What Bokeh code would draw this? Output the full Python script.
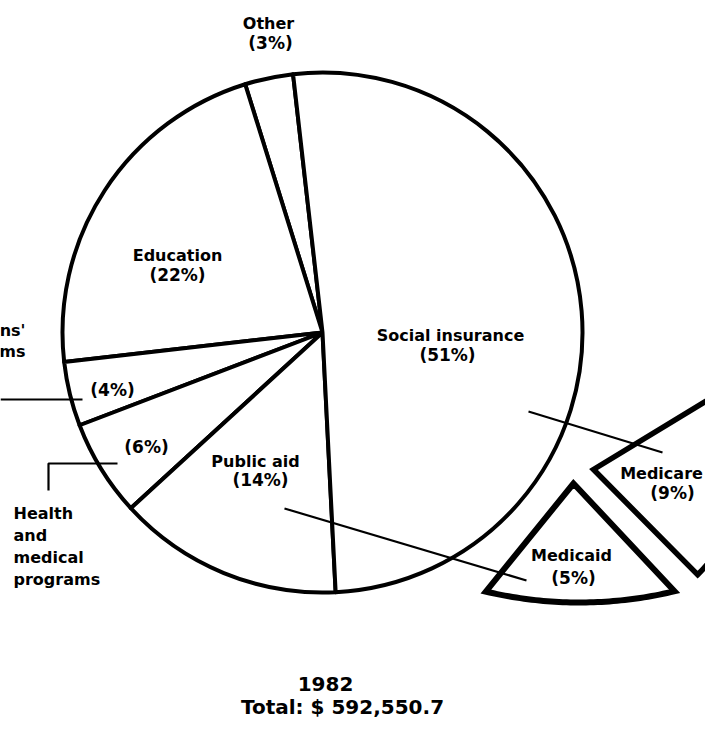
import numpy as np
from bokeh.plotting import figure
from bokeh.models import Range1d
from bokeh.core.properties import value
from bokeh.embed import file_html
from bokeh.resources import INLINE

# ---------------- data ----------------
slice_names = ["Other", "Education", "Veterans' programs",
               "Health and medical programs", "Public aid", "Social insurance"]
slice_shares = [3, 22, 4, 6, 14, 51]
callout_names = ["Medicare", "Medicaid"]
callout_shares = [9, 5]
year_label = "1982"
total_value = 592550.7

# ---------------- layout (picture pixel space, y down) ----------------
W, H = 705, 718
TEXT_DY = -7  # compensates the svg text baseline offset
def fy(y):
    return float(H - y)
def ft(y):
    return float(H - (y + TEXT_DY))

PIE_CX, PIE_CY, PIE_R = 322, 332, 260
START_DEG = 96.5

p = figure(width=W, height=H, x_range=Range1d(0, W), y_range=Range1d(0, H),
           output_backend="svg", toolbar_location=None, min_border=0,
           x_axis_location=None, y_axis_location=None)
p.grid.visible = False
p.outline_line_color = None
p.background_fill_color = "white"
p.border_fill_color = "white"

# ---------------- pie ----------------
shares = np.array(slice_shares, dtype=float)
cum = np.concatenate([[0], np.cumsum(shares)]) / shares.sum() * 360.0
starts = np.radians(START_DEG + cum[:-1])
ends = np.radians(START_DEG + cum[1:])
p.wedge(x=[PIE_CX] * len(shares), y=[fy(PIE_CY)] * len(shares), radius=PIE_R,
        start_angle=list(starts), end_angle=list(ends), direction="anticlock",
        fill_color="white", line_color="black", line_width=4, line_join="round")

# ---------------- call-out pieces ----------------
# Medicare: sector with apex at its own centre
MC_APEX = (593, 469)
p.wedge(x=[MC_APEX[0]], y=[fy(MC_APEX[1])], radius=148,
        start_angle=np.radians(-45.3), end_angle=np.radians(31.3),
        fill_color="white", line_color="black", line_width=5.5, line_join="miter")

# Medicaid: apex + shallow outer arc
MD_APEX = (573, 483)
MD_ARC_C = (579, 195)
MD_ARC_R = 407
th = np.radians(np.linspace(-103.3, -76.5, 50))
arc_x = MD_ARC_C[0] + MD_ARC_R * np.cos(th)
arc_y = fy(MD_ARC_C[1]) + MD_ARC_R * np.sin(th)
p.patch(x=np.concatenate([[MD_APEX[0]], arc_x]), y=np.concatenate([[fy(MD_APEX[1])], arc_y]),
        fill_color="white", line_color="black", line_width=6, line_join="miter")

# ---------------- leader lines ----------------
leaders = [
    ([528, 662], [411, 452]),          # Medicare
    ([284, 526], [508, 580]),          # Medicaid
    ([0, 82], [399, 399]),             # Veterans' programs
    ([117, 48, 48], [463, 463, 490]),  # Health and medical programs
]
p.multi_line(xs=[l[0] for l in leaders], ys=[[fy(v) for v in l[1]] for l in leaders],
             line_color="black", line_width=2.2)

# ---------------- labels ----------------
FONT = value("DejaVu Sans")
name_lines = {
    "Other": (["Other"], 268, [30], "center"),
    "Education": (["Education"], 177, [262], "center"),
    "Veterans' programs": (["Veterans'", "programs"], 25, [337, 358], "right"),
    "Health and medical programs": (["Health", "and", "medical", "programs"], 13, [520, 542, 564, 586], "left"),
    "Public aid": (["Public aid"], 255, [468], "center"),
    "Social insurance": (["Social insurance"], 450, [342], "center"),
    "Medicare": (["Medicare"], 661, [480], "center"),
    "Medicaid": (["Medicaid"], 571, [562], "center"),
}
pct_pos = {
    "Other": (270, 49), "Education": (177, 281), "Veterans' programs": (112, 396),
    "Health and medical programs": (146, 453), "Public aid": (260, 486),
    "Social insurance": (447, 361), "Medicare": (672, 499), "Medicaid": (573, 584),
}

all_names = slice_names + callout_names
all_shares = slice_shares + callout_shares
for align in ["left", "center", "right"]:
    xs, ys, ts = [], [], []
    for n in all_names:
        lines, x0, bl, a = name_lines[n]
        if a != align:
            continue
        for t, b in zip(lines, bl):
            xs.append(x0); ys.append(ft(b)); ts.append(t)
    if ts:
        p.text(x=xs, y=ys, text=ts, text_font=FONT, text_font_size="16px",
               text_font_style="bold", text_align=align, text_baseline="alphabetic",
               text_color="black")

p.text(x=[pct_pos[n][0] for n in all_names], y=[ft(pct_pos[n][1]) for n in all_names],
       text=[f"({s}%)" for s in all_shares], text_font=FONT, text_font_size="17px",
       text_font_style="bold", text_align="center", text_baseline="alphabetic", text_color="black")

# ---------------- title ----------------
total_label = "Total: $ " + f"{total_value:,.1f}"
p.text(x=[325, 342], y=[ft(690), ft(713)], text=[year_label, total_label],
       text_font=FONT, text_font_size="20px", text_font_style="bold",
       text_align="center", text_baseline="alphabetic", text_color="black")

open("out.html", "w").write(file_html(p, INLINE))
